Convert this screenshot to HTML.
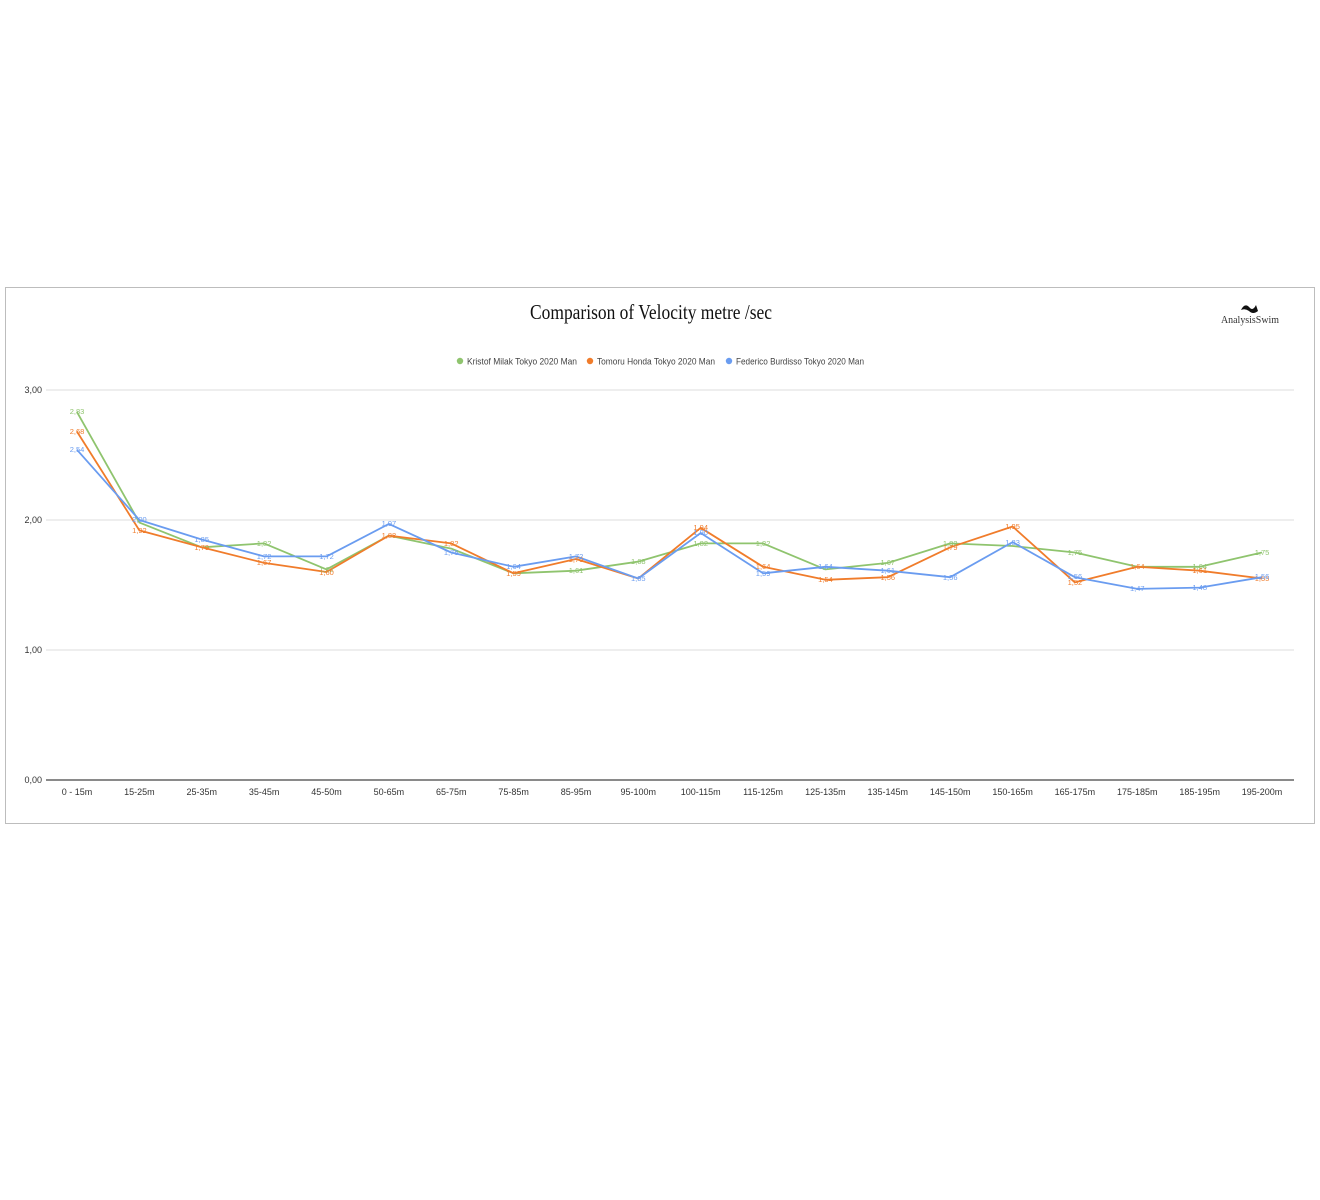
<!DOCTYPE html>
<html><head><meta charset="utf-8"><style>
html,body{margin:0;padding:0;background:#fff;}
svg{display:block;}
text{font-family:"Liberation Sans",sans-serif;}
</style></head><body>
<svg width="1320" height="1200" viewBox="0 0 1320 1200" xmlns="http://www.w3.org/2000/svg">
<rect x="5.5" y="287.5" width="1309" height="536" fill="#fff" stroke="#bdbdbd" stroke-width="1"/>
<text x="651" y="319" text-anchor="middle" font-family="Liberation Serif,serif" style="font-family:'Liberation Serif',serif" font-size="21" textLength="242" lengthAdjust="spacingAndGlyphs" fill="#111">Comparison of Velocity metre /sec</text>
<text x="1250" y="323" text-anchor="middle" style="font-family:'Liberation Serif',serif" font-size="11" textLength="58" lengthAdjust="spacingAndGlyphs" fill="#333">AnalysisSwim</text>
<path d="M1241 310 q4 -8 9 -2 q3 3 6 -3 l2 6 q-5 4 -9 0 q-4 -3 -8 -1z" fill="#111"/>
<circle cx="460" cy="361" r="3.2" fill="#8fc46e"/>
<text x="467" y="364.5" font-size="9" textLength="110" lengthAdjust="spacingAndGlyphs" fill="#444">Kristof Milak  Tokyo 2020 Man</text>
<circle cx="590" cy="361" r="3.2" fill="#f07c2b"/>
<text x="597" y="364.5" font-size="9" textLength="118" lengthAdjust="spacingAndGlyphs" fill="#444">Tomoru Honda  Tokyo 2020 Man</text>
<circle cx="729" cy="361" r="3.2" fill="#6a9cf0"/>
<text x="736" y="364.5" font-size="9" textLength="128" lengthAdjust="spacingAndGlyphs" fill="#444">Federico Burdisso Tokyo 2020 Man</text>
<g stroke="#e3e3e3" stroke-width="1.2">
<line x1="46" y1="390" x2="1294" y2="390"/>
<line x1="46" y1="520" x2="1294" y2="520"/>
<line x1="46" y1="650" x2="1294" y2="650"/>
</g>
<line x1="46" y1="780" x2="1294" y2="780" stroke="#444" stroke-width="1.2"/>
<g font-size="9" fill="#333" text-anchor="end">
<text x="42" y="393">3,00</text><text x="42" y="523">2,00</text><text x="42" y="653">1,00</text><text x="42" y="783">0,00</text>
</g>
<g font-size="9" fill="#333" text-anchor="middle">
<text x="77" y="795">0 - 15m</text><text x="139.4" y="795">15-25m</text><text x="201.7" y="795">25-35m</text><text x="264.1" y="795">35-45m</text><text x="326.5" y="795">45-50m</text><text x="388.9" y="795">50-65m</text><text x="451.2" y="795">65-75m</text><text x="513.6" y="795">75-85m</text><text x="576" y="795">85-95m</text><text x="638.3" y="795">95-100m</text><text x="700.7" y="795">100-115m</text><text x="763.1" y="795">115-125m</text><text x="825.4" y="795">125-135m</text><text x="887.8" y="795">135-145m</text><text x="950.2" y="795">145-150m</text><text x="1012.6" y="795">150-165m</text><text x="1074.9" y="795">165-175m</text><text x="1137.3" y="795">175-185m</text><text x="1199.7" y="795">185-195m</text><text x="1262" y="795">195-200m</text>
</g>
<g fill="none" stroke-width="1.8" stroke-linejoin="round">
<polyline stroke="#8fc46e" points="77,412.1 139.4,522.6 201.7,547.3 264.1,543.4 326.5,569.4 388.9,535.6 451.2,548.6 513.6,573.3 576,570.7 638.3,561.6 700.7,543.4 763.1,543.4 825.4,569.4 887.8,562.9 950.2,543.4 1012.6,546 1074.9,552.5 1137.3,566.8 1199.7,566.8 1262,552.5"/>
<polyline stroke="#f07c2b" points="77,431.6 139.4,530.4 201.7,547.3 264.1,562.9 326.5,572 388.9,535.6 451.2,543.4 513.6,573.3 576,559 638.3,578.5 700.7,527.8 763.1,566.8 825.4,579.8 887.8,577.2 950.2,547.3 1012.6,526.5 1074.9,582.4 1137.3,566.8 1199.7,570.7 1262,578.5"/>
<polyline stroke="#6a9cf0" points="77,449.8 139.4,520 201.7,539.5 264.1,556.4 326.5,556.4 388.9,523.9 451.2,552.5 513.6,566.8 576,556.4 638.3,578.5 700.7,533 763.1,573.3 825.4,566.8 887.8,570.7 950.2,577.2 1012.6,542.1 1074.9,577.2 1137.3,588.9 1199.7,587.6 1262,577.2"/>
</g>
<g font-size="7.5" text-anchor="middle" fill="#8fc46e">
<text x="77" y="414">2,83</text><text x="264.1" y="546">1,82</text><text x="576" y="573">1,61</text><text x="638.3" y="564">1,68</text><text x="700.7" y="546">1,82</text><text x="763.1" y="546">1,82</text><text x="887.8" y="565">1,67</text><text x="950.2" y="546">1,82</text><text x="1074.9" y="555">1,75</text><text x="1199.7" y="569">1,64</text><text x="1262" y="555">1,75</text><text x="326.5" y="572">1,62</text>
</g>
<g font-size="7.5" text-anchor="middle" fill="#f07c2b">
<text x="77" y="434">2,68</text><text x="139.4" y="533">1,92</text><text x="201.7" y="550">1,79</text><text x="264.1" y="565">1,67</text><text x="326.5" y="575">1,60</text><text x="388.9" y="538">1,88</text><text x="451.2" y="546">1,82</text><text x="513.6" y="576">1,59</text><text x="576" y="562">1,70</text><text x="700.7" y="530">1,94</text><text x="763.1" y="569">1,64</text><text x="825.4" y="582">1,54</text><text x="887.8" y="580">1,56</text><text x="950.2" y="550">1,79</text><text x="1012.6" y="529">1,95</text><text x="1074.9" y="585">1,52</text><text x="1137.3" y="569">1,64</text><text x="1199.7" y="573">1,61</text><text x="1262" y="581">1,55</text>
</g>
<g font-size="7.5" text-anchor="middle" fill="#6a9cf0">
<text x="77" y="452">2,54</text><text x="139.4" y="522">2,00</text><text x="201.7" y="542">1,85</text><text x="264.1" y="559">1,72</text><text x="326.5" y="559">1,72</text><text x="388.9" y="526">1,97</text><text x="451.2" y="555">1,75</text><text x="513.6" y="569">1,64</text><text x="576" y="559">1,72</text><text x="638.3" y="581">1,55</text><text x="700.7" y="535">1,90</text><text x="763.1" y="576">1,59</text><text x="825.4" y="569">1,64</text><text x="887.8" y="573">1,61</text><text x="950.2" y="580">1,56</text><text x="1012.6" y="545">1,83</text><text x="1074.9" y="579">1,56</text><text x="1137.3" y="591">1,47</text><text x="1199.7" y="590">1,48</text><text x="1262" y="579">1,56</text>
</g>
</svg>
</body></html>
